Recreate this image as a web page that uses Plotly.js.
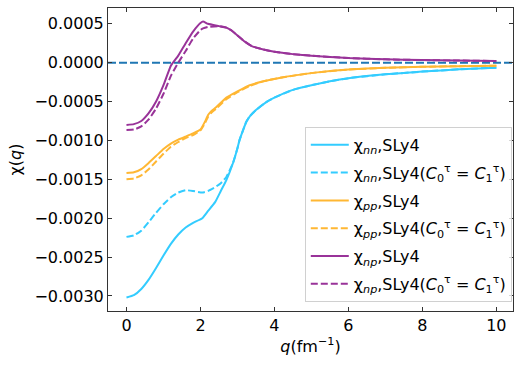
<!DOCTYPE html>
<html>
<head>
<meta charset="utf-8">
<script src="https://cdn.plot.ly/plotly-3.0.1.min.js"></script>
<style>
  html, body { margin: 0; padding: 0; background: #fff; }
  #chart { width: 523px; height: 365px; }
</style>
</head>
<body>
<div id="chart"></div>
<script>
// chi_nn, SLy4
const qNn = [0, 0.2, 0.4, 0.6, 0.8, 1.0, 1.2, 1.4, 1.6, 1.8, 2.05, 2.2, 2.4, 2.55, 2.7, 2.88, 3.0, 3.06, 3.15, 3.24, 3.35, 3.5, 3.8, 4.0, 4.5, 5.0, 5.5, 6.0, 7.0, 8.0, 9.0, 10.0];
const nnSolid = [-0.00302, -0.00299, -0.00291, -0.00279, -0.00264, -0.00248, -0.00233, -0.00221, -0.00212, -0.00206, -0.00200, -0.00191, -0.00179, -0.00165, -0.00151, -0.00129, -0.00110, -0.00099, -0.00087, -0.00076, -0.00068, -0.00061, -0.00050, -0.00045, -0.00035, -0.00029, -0.00024, -0.00020, -0.00015, -0.000115, -0.000085, -0.000064];
const nnDashed = [-0.00224, -0.00222, -0.00216, -0.00205, -0.00193, -0.00182, -0.00173, -0.00167, -0.00164, -0.00165, -0.00167, -0.00165, -0.00160, -0.00155, -0.00147, -0.00129, -0.00110, -0.00099, -0.00087, -0.00076, -0.00068, -0.00061, -0.00050, -0.00045, -0.00035, -0.00029, -0.00024, -0.00020, -0.00015, -0.000115, -0.000085, -0.000064];

// chi_pp, SLy4
const qPp = [0, 0.2, 0.4, 0.6, 0.8, 1.0, 1.2, 1.4, 1.6, 1.8, 2.0, 2.12, 2.21, 2.3, 2.43, 2.7, 3.0, 3.33, 3.7, 4.2, 4.6, 5.1, 6.0, 7.0, 8.0, 9.0, 10.0];
const ppSolid = [-0.00142, -0.00141, -0.00137, -0.00129, -0.00120, -0.00111, -0.00104, -0.00099, -0.00095, -0.00091, -0.00086, -0.00076, -0.00067, -0.00062, -0.00057, -0.00045, -0.00037, -0.00029, -0.00024, -0.00019, -0.00016, -0.000128, -0.000088, -0.000066, -0.000053, -0.000045, -0.000039];
const ppDashed = [-0.00150, -0.00149, -0.00145, -0.00137, -0.00127, -0.00117, -0.00108, -0.00102, -0.00097, -0.00093, -0.00087, -0.00078, -0.00069, -0.00064, -0.00059, -0.00047, -0.00038, -0.00030, -0.00024, -0.00019, -0.00016, -0.000128, -0.000088, -0.000066, -0.000053, -0.000045, -0.000039];

// chi_np, SLy4
const qNp = [0, 0.2, 0.4, 0.6, 0.8, 1.0, 1.2, 1.4, 1.6, 1.8, 2.0, 2.07, 2.2, 2.5, 2.7, 2.85, 3.0, 3.2, 3.4, 3.7, 4.0, 4.5, 5.0, 6.0, 7.0, 8.0, 9.0, 10.0];
const npSolid = [-0.00080, -0.00079, -0.00075, -0.00065, -0.00050, -0.00029, -0.00004, 0.00009, 0.00025, 0.00040, 0.00051, 0.00053, 0.00050, 0.00047, 0.00045, 0.00041, 0.00035, 0.00027, 0.00021, 0.00017, 0.00014, 0.00011, 0.00009, 0.00006, 0.000043, 0.000033, 0.000027, 0.000022];
const npDashed = [-0.000865, -0.00086, -0.00082, -0.00073, -0.00059, -0.00040, -0.00017, 0.00000, 0.00015, 0.00031, 0.00042, 0.00044, 0.00046, 0.00047, 0.00045, 0.00041, 0.00035, 0.00027, 0.00021, 0.00017, 0.00014, 0.00011, 0.00009, 0.00006, 0.000043, 0.000033, 0.000027, 0.000022];

const names = [
    '\u03c7<sub><i>nn</i></sub>,SLy4',
    '\u03c7<sub><i>nn</i></sub>,SLy4(<i>C</i><sub>0</sub><sup>\u03c4</sup> = <i>C</i><sub>1</sub><sup>\u03c4</sup>)',
    '\u03c7<sub><i>pp</i></sub>,SLy4',
    '\u03c7<sub><i>pp</i></sub>,SLy4(<i>C</i><sub>0</sub><sup>\u03c4</sup> = <i>C</i><sub>1</sub><sup>\u03c4</sup>)',
    '\u03c7<sub><i>np</i></sub>,SLy4',
    '\u03c7<sub><i>np</i></sub>,SLy4(<i>C</i><sub>0</sub><sup>\u03c4</sup> = <i>C</i><sub>1</sub><sup>\u03c4</sup>)'
];

const cyan = '#33ccff';
const orange = '#ffb733';
const purple = '#993399';

function line(x, y, name, color, dash, group) {
    return {
        x: x, y: y, name: name, mode: 'lines', type: 'scatter', legendgroup: group,
        line: { color: color, width: 2, dash: dash, shape: 'spline', smoothing: 0.4 }
    };
}

const data = [
    line(qNn, nnSolid, names[0], cyan, 'solid', 'g1'),
    line(qNn, nnDashed, names[1], cyan, '7px,3px', 'g2'),
    line(qPp, ppSolid, names[2], orange, 'solid', 'g3'),
    line(qPp, ppDashed, names[3], orange, '7px,3px', 'g4'),
    line(qNp, npSolid, names[4], purple, 'solid', 'g5'),
    line(qNp, npDashed, names[5], purple, '7px,3px', 'g6')
];

const axisStyle = {
    showline: true, mirror: 'ticks', linecolor: '#333', linewidth: 1,
    ticks: 'inside', ticklen: 4, tickcolor: '#333', tickwidth: 1,
    showgrid: false, zeroline: false,
    tickfont: { family: 'DejaVu Sans', size: 16, color: '#000' }
};

const layout = {
    width: 523, height: 365,
    margin: { l: 108, r: 10, t: 8, b: 54 },
    paper_bgcolor: '#fff', plot_bgcolor: '#fff',
    font: { family: 'DejaVu Sans', size: 16, color: '#000' },
    showlegend: true,
    xaxis: Object.assign({}, axisStyle, {
        range: [-0.5, 10.45], tickvals: [0, 2, 4, 6, 8, 10],
        title: { text: '<i>q</i>(fm<sup>\u22121</sup>)', standoff: 6, font: { family: 'DejaVu Sans', size: 16 } }
    }),
    yaxis: Object.assign({}, axisStyle, {
        range: [-0.003193, 0.000703], tick0: 0, dtick: 0.0005, tickformat: '.4f',
        title: { text: '\u03c7(<i>q</i>)', standoff: 8, font: { family: 'DejaVu Sans', size: 16 } }
    }),
    shapes: [{
        type: 'line', xref: 'paper', x0: 0, x1: 1, yref: 'y', y0: 0, y1: 0,
        line: { color: '#1f77b4', width: 2, dash: '8px,3px' }, layer: 'below'
    }],
    legend: {
        x: 0.997, xanchor: 'right', y: 0.03, yanchor: 'bottom',
        traceorder: 'grouped', tracegroupgap: 4, itemwidth: 38,
        bgcolor: 'rgba(255,255,255,0.8)', bordercolor: '#d0d0d0', borderwidth: 1,
        font: { family: 'DejaVu Sans', size: 16, color: '#000' }
    }
};

Plotly.newPlot('chart', data, layout, { displayModeBar: false, staticPlot: true });
</script>
</body>
</html>
